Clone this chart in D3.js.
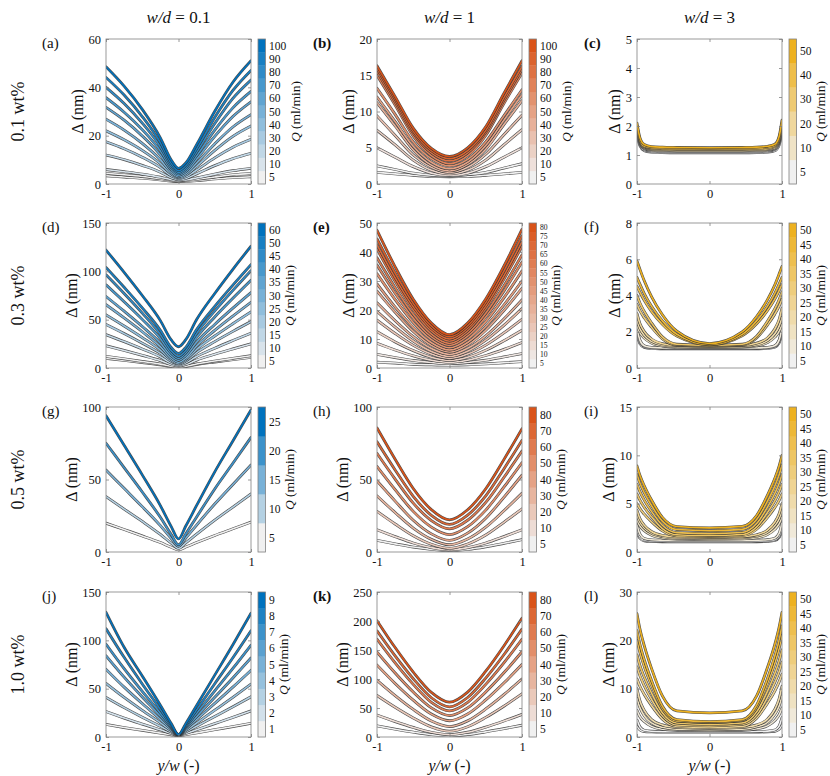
<!DOCTYPE html>
<html><head><meta charset="utf-8">
<script src="https://cdn.jsdelivr.net/npm/d3@7"></script>
<style>
body{margin:0;background:#fff}
text{font-family:'Liberation Serif','DejaVu Serif',serif;fill:#111}
</style>
</head><body><svg id="chart" width="830" height="776"></svg>
<script>
// ---------- DATA ----------
const colHeaders = ["0.1", "1", "3"];
const rowLabels = ["0.1 wt%", "0.3 wt%", "0.5 wt%", "1.0 wt%"];
const panelIds = ["a","b","c","d","e","f","g","h","i","j","k","l"];
const xTicks = [-1, 0, 1];

const X1 = [-1, -0.75, -0.5, -0.25, -0.1, 0, 0.1, 0.25, 0.5, 0.75, 1];
const X2 = [-1, -0.75, -0.5, -0.25, 0, 0.25, 0.5, 0.75, 1];
const X3 = [-1, -0.96, -0.9, -0.8, -0.65, -0.45, 0, 0.45, 0.65, 0.8, 0.9, 0.96, 1];

// (a)
const levelsA = [5,10,20,30,40,50,60,70,80,90,100];
const yTicksA = [0,20,40,60];
const qA = [5,5,10,20,30,40,50,60,70,80,90,100];
const deltaA = [
 [3.4,2.9,2.4,1.7,1.2,1.0,1.1,1.4,2.1,2.6,3.0],
 [4.4,3.8,3.1,2.2,1.5,1.2,1.4,1.9,2.9,3.8,4.4],
 [6,5.1,4.1,2.8,1.8,1.4,1.7,2.5,4.1,5.5,6.5],
 [12,10.1,7.7,4.9,2.6,1.8,2.3,4.2,7.6,10.5,12.7],
 [17.5,14.6,11.1,6.8,3.4,2.2,3.0,5.8,10.8,15.2,18.5],
 [22,18.3,13.9,8.4,4.2,2.6,3.7,7.3,13.9,19.7,24],
 [26.8,22.3,16.8,10.1,4.9,3.0,4.3,8.7,16.6,23.6,28.7],
 [31.7,26.4,19.9,12.0,5.8,3.6,5.1,10.3,19.7,27.9,34],
 [35.7,29.7,22.5,13.7,6.7,4.2,5.9,11.7,22.3,31.5,38.3],
 [40,33.3,25.2,15.4,7.6,4.8,6.7,13.2,25.0,35.4,43],
 [44.1,36.8,27.9,17.1,8.6,5.5,7.6,14.6,27.5,38.7,47],
 [48.5,40.5,30.9,19.1,9.9,6.5,8.7,16.3,30.1,42.1,51]
];
// (b)
const levelsB = [5,10,20,30,40,50,60,70,80,90,100];
const yTicksB = [0,5,10,15,20];
const qB = [5,5,10,20,30,40,50,60,70,80,90,100];
const deltaB = [
 [1.6,1.4,1.2,1.05,1.0,1.05,1.2,1.4,1.6],
 [2.5,2,1.5,1.2,1.1,1.3,1.6,2.2,2.8],
 [5,3.7,2.4,1.5,1.2,1.5,2.4,3.7,5],
 [7.4,5.4,3.3,1.9,1.4,1.9,3.3,5.4,7.5],
 [9.4,6.7,4,2.3,1.6,2.3,4.1,6.8,9.5],
 [11.2,8,4.7,2.6,1.8,2.7,4.8,8.2,11.5],
 [12,8.6,5.2,3,2.1,3,5.3,8.8,12.3],
 [13.2,9.6,5.8,3.5,2.5,3.4,5.8,9.4,13],
 [15,10.9,6.6,3.9,2.8,3.9,6.7,11.1,15.3],
 [15.5,11.3,7,4.3,3.2,4.3,7.1,11.5,15.8],
 [15.9,11.7,7.3,4.6,3.5,4.6,7.4,11.9,16.2],
 [16.3,12.05,7.7,4.9,3.8,5,7.9,12.5,17]
];
// (c)
const levelsC = [5,10,20,30,40,50];
const yTicksC = [0,1,2,3,4,5];
const qC = [5,5,10,20,30,40,50];
const deltaC = [
 [1.7,1.32,1.15,1.1,1.08,1.07,1.07,1.07,1.08,1.1,1.15,1.34,1.75],
 [1.8,1.38,1.18,1.13,1.11,1.1,1.1,1.1,1.11,1.13,1.19,1.4,1.85],
 [1.85,1.42,1.22,1.16,1.14,1.13,1.13,1.13,1.14,1.16,1.22,1.44,1.9],
 [1.9,1.46,1.25,1.19,1.17,1.16,1.16,1.16,1.17,1.19,1.25,1.48,1.95],
 [1.95,1.49,1.28,1.22,1.2,1.19,1.19,1.19,1.2,1.22,1.29,1.51,2.0],
 [2.0,1.53,1.31,1.25,1.23,1.22,1.22,1.22,1.23,1.26,1.33,1.57,2.1],
 [2.1,1.6,1.36,1.29,1.27,1.26,1.25,1.26,1.27,1.3,1.37,1.64,2.2]
];
// (d)
const levelsD = [5,10,15,20,25,30,35,40,45,50,60];
const yTicksD = [0,50,100,150];
const qD = [5,5,10,15,20,25,30,35,40,45,50,60];
const deltaD = [
 [10,7.9,5.7,3.3,1.4,0.8,1.5,3.6,6.2,8.7,11],
 [12,9.5,6.8,4.0,1.8,1,1.8,4.2,7.2,10,12.7],
 [23,18.2,13.1,7.7,3.5,2,3.6,8.2,14.2,19.7,25],
 [34.5,27.3,19.7,11.5,5.2,3,5.3,11.9,20.5,28.4,36],
 [45,35.6,25.7,15.1,6.9,4,7.1,15.9,27.3,37.9,48],
 [55,43.5,31.5,18.5,8.5,5,8.7,19.3,33.1,45.8,58],
 [65.5,51.8,37.5,22.1,10.2,6,10.3,22.7,38.9,53.7,68],
 [74,58.8,43,25.8,12.6,8,12.9,26.9,45.1,61.9,78],
 [86,68.5,50.3,30.5,15.3,10,15.6,31.8,52.8,72.1,90.7],
 [96.5,77.1,56.8,34.8,17.9,12,18.2,36,59,80.3,100.7],
 [104,83.5,62.2,39.0,21.2,15,21.4,39.8,63.8,85.8,107],
 [122,99,75,49,29,22,29.3,50.1,77.1,102.1,126]
];
// (e)
const levelsE = [5,10,15,20,25,30,35,40,45,50,55,60,65,70,75,80];
const yTicksE = [0,10,20,30,40,50];
const qE = [5,10,15,20,25,30,35,40,45,50,55,60,65,70,75,80];
const deltaE = [
 [2,1.7,1.3,1.1,1,1.1,1.4,1.8,2.2],
 [4.7,3.6,2.6,1.9,1.5,1.9,2.7,3.8,5],
 [8.5,6.2,4.2,2.7,2,2.7,4.3,6.4,8.8],
 [12.5,9.0,6,3.7,2.6,3.7,6.1,9.4,13],
 [16.5,11.9,7.8,4.8,3.3,4.8,7.9,12.1,16.8],
 [19.5,14.1,9.3,5.7,4,5.8,9.6,14.7,20.5],
 [22.5,16.3,10.8,6.7,4.7,6.8,11.1,16.9,23.5],
 [26.5,19.2,12.6,7.8,5.5,7.9,13,19.8,27.5],
 [29,21,14,8.7,6.2,8.8,14.3,21.7,30],
 [32.5,23.6,15.7,9.8,7,9.9,16,24.2,33.5],
 [35.5,25.8,17.2,10.8,7.8,11,17.6,26.5,36.5],
 [38,27.7,18.5,11.7,8.5,11.9,18.9,28.3,39],
 [41,29.9,20.1,12.8,9.3,12.9,20.4,30.6,42],
 [42.5,31.1,21.1,13.6,10,13.7,21.4,31.8,43.5],
 [44.5,32.7,22.3,14.5,10.8,14.6,22.6,33.4,45.5],
 [47.5,34.9,23.7,15.5,11.5,15.5,23.8,35.1,47.8]
];
// (f)
const levelsF = [5,10,15,20,25,30,35,40,45,50];
const yTicksF = [0,2,4,6,8];
const qF = [5,5,10,15,20,25,30,35,40,45,50];
const deltaF = [
 [1.8,1.35,1.14,1.08,1.06,1.05,1.05,1.05,1.06,1.08,1.15,1.39,1.9],
 [2.0,1.45,1.19,1.12,1.09,1.08,1.08,1.08,1.09,1.12,1.2,1.49,2.1],
 [2.2,1.54,1.23,1.14,1.11,1.1,1.1,1.1,1.11,1.14,1.23,1.54,2.2],
 [2.3,1.95,1.65,1.38,1.21,1.14,1.12,1.15,1.22,1.4,1.7,2.02,2.4],
 [2.6,2.17,1.8,1.47,1.27,1.18,1.15,1.18,1.28,1.51,1.89,2.31,2.8],
 [3.0,2.46,2.01,1.6,1.34,1.24,1.2,1.24,1.37,1.66,2.15,2.67,3.3],
 [3.5,3.16,2.77,2.25,1.61,1.27,1.22,1.27,1.66,2.38,2.97,3.41,3.8],
 [4.0,3.59,3.12,2.49,1.72,1.31,1.25,1.31,1.75,2.58,3.26,3.76,4.2],
 [4.5,4.18,3.73,3.12,2.41,1.76,1.28,1.78,2.44,3.17,3.8,4.27,4.6],
 [5.0,4.63,4.11,3.41,2.6,1.86,1.3,1.86,2.6,3.41,4.11,4.63,5.0],
 [5.9,5.45,4.81,3.94,2.94,2.03,1.35,1.99,2.84,3.77,4.58,5.18,5.6]
];
// (g)
const levelsG = [5,10,15,20,25];
const yTicksG = [0,50,100];
const qG = [5,10,15,20,25];
const deltaG = [
 [19.9,15.5,11.1,6.5,3.3,1.5,3.4,6.5,11.4,16,20.6],
 [38.2,29.6,21.1,12.1,6.1,2.5,6.3,12.3,22,31,40],
 [56.5,43.9,31.3,18.2,9.3,4,9.6,18.6,33.1,46.6,60],
 [75,58.2,41.4,23.9,12,5,12.4,24.2,43.5,61.2,79],
 [94,73.6,53.2,32,17.5,9,17.9,32.1,55.3,76.6,98]
];
// (h)
const levelsH = [5,10,20,30,40,50,60,70,80];
const yTicksH = [0,50,100];
const qH = [5,10,20,30,40,50,60,70,80];
const deltaH = [
 [8,5.6,3.4,1.8,1,1.8,3.6,6,8.5],
 [15.3,10.6,6.2,3,1.5,3,6.2,10.6,15.3],
 [28,19.3,11.2,5.3,2.5,5.5,11.7,20.5,29.7],
 [38.7,27.2,16.5,8.7,5,8.9,17.1,28.4,40.5],
 [49,35.1,21.9,12.5,8,13,23.3,37.7,53],
 [59,43,28,17.2,12,17.5,28.9,44.7,61.6],
 [68,50.3,33.7,21.7,16,21.9,34.2,51.4,69.6],
 [76,56.6,38.4,25.3,19,25.4,38.7,57.3,77],
 [85.6,64.0,43.8,29.2,22.2,29.1,43.6,63.7,85]
];
// (i)
const levelsI = [5,10,15,20,25,30,35,40,45,50];
const yTicksI = [0,5,10,15];
const qI = [5,5,10,15,20,25,30,35,40,45,50];
const deltaI = [
 [2.0,1.43,1.16,1.09,1.06,1.05,1.05,1.05,1.06,1.10,1.19,1.51,2.2],
 [2.3,1.58,1.24,1.15,1.11,1.1,1.1,1.1,1.11,1.16,1.27,1.66,2.5],
 [2.8,1.84,1.39,1.26,1.22,1.2,1.2,1.2,1.22,1.27,1.42,1.92,3.0],
 [3.3,2.7,2.2,1.74,1.46,1.34,1.3,1.35,1.48,1.81,2.34,2.91,3.6],
 [3.8,3.08,2.48,1.93,1.59,1.45,1.4,1.46,1.63,2.04,2.71,3.43,4.3],
 [4.3,3.46,2.76,2.12,1.72,1.56,1.5,1.57,1.78,2.27,3.08,3.95,5.0],
 [5.0,4.49,3.91,3.13,2.18,1.67,1.6,1.69,2.35,3.58,4.59,5.34,6.0],
 [6.0,5.36,4.62,3.64,2.43,1.79,1.7,1.81,2.6,4.09,5.3,6.21,7.0],
 [7.0,6.24,5.37,4.2,2.77,2.0,1.9,2.02,2.94,4.65,6.05,7.09,8.0],
 [8.0,7.13,6.14,4.81,3.19,2.32,2.2,2.34,3.36,5.26,6.82,7.98,9.0],
 [8.9,7.94,6.85,5.38,3.59,2.63,2.5,2.65,3.78,5.88,7.6,8.88,10]
];
// (j)
const levelsJ = [1,2,3,4,5,6,7,8,9];
const yTicksJ = [0,50,100,150];
const qJ = [1,2,3,4,5,6,7,8,9];
const deltaJ = [
 [13,9.8,6.9,4.0,2.3,1.2,2.4,4.3,7.6,10.8,14.2],
 [26.3,19.6,13.4,7.4,3.6,1.4,3.7,7.5,13.9,20.3,27],
 [41,30.4,20.5,11.1,5.1,1.6,5.2,11.2,21.2,31.2,41.6],
 [55.4,40.9,27.5,14.7,6.6,1.8,6.6,14.5,27.7,41,54.7],
 [70,51.6,34.6,18.3,8.1,2,8,18.1,34.8,51.6,69],
 [84,61.9,41.4,21.7,9.4,2,9.2,21.1,41.1,61,81.7],
 [96,70.7,47.2,24.7,10.6,2.2,10.6,24.5,47.7,70.9,95],
 [112,82.4,54.9,28.6,12.2,2.3,12,28.1,55.1,82,110],
 [129,92.8,63.2,32.9,13.9,2.5,13.8,32.6,64,95.4,128]
];
// (k)
const levelsK = [5,10,20,30,40,50,60,70,80];
const yTicksK = [0,50,100,150,200,250];
const qK = [5,10,20,30,40,50,60,70,80];
const deltaK = [
 [19.2,13.5,8.4,4.1,2,4.2,8.8,14.3,20.3],
 [37.8,26.6,16.5,8.1,4,8.2,17,27.5,39],
 [71.5,51.2,32.8,17.4,10,17.7,33.8,53.1,74.4],
 [97.7,71.4,47.5,27.6,18,27.8,48.3,73,100],
 [124,92.3,63.5,39.5,28,39.6,63.9,93,125],
 [146.5,110.4,77.5,50.1,37,50.2,77.7,110.7,147],
 [168.6,127.8,90.7,59.8,45,59.8,90.7,127.8,168.6],
 [183,139.8,100.5,67.7,52,68.1,101.6,141.8,186],
 [200.6,154.2,112,76.9,60,77.4,113.5,157,204.7]
];
// (l)
const levelsL = [5,10,15,20,25,30,35,40,45,50];
const yTicksL = [0,10,20,30];
const qL = [5,5,10,15,20,25,30,35,40,45,50];
const deltaL = [
 [2.2,1.48,1.14,1.05,1.01,1.0,1.0,1.0,1.02,1.06,1.18,1.6,2.5],
 [3.5,2.1,1.4,1.2,1.12,1.1,1.1,1.1,1.13,1.22,1.45,2.26,4],
 [5.5,4.2,3.2,2.2,1.6,1.4,1.3,1.4,1.7,2.3,3.4,4.6,6],
 [8,6.1,4.4,2.9,2.0,1.6,1.5,1.6,2.1,3.0,4.7,6.4,8.5],
 [10,7.5,5.5,3.6,2.5,2.0,1.8,2.0,2.5,3.7,5.7,7.9,10.5],
 [12,10.5,8.8,6.5,3.7,2.2,2.0,2.2,3.9,7.0,9.5,11.4,13],
 [14.5,12.7,10.6,7.8,4.4,2.5,2.3,2.6,4.5,8.2,11.3,13.5,15.5],
 [17,14.8,12.4,9.1,5.0,2.9,2.6,2.9,5.2,9.5,13.1,15.7,18],
 [20,17.5,14.6,10.7,5.9,3.3,3.0,3.4,6.1,11.1,15.2,18.3,21],
 [22,19.2,16,11.7,6.4,3.6,3.2,3.6,6.6,12.1,16.7,20,23],
 [25.5,22.4,18.9,14.2,8.5,5.4,5,5.4,8.5,14.4,19.1,22.7,25.8]
];

// ---------- LAYOUT / STYLE ----------
const colLeft = [106, 377, 637];
const rowTop = [39, 223, 407, 592];
const PW = 145, PH = 145;
const cbGap = 7, cbW = 7.5;
const colColors = ["#0072BD", "#D95319", "#EDB120"];
const lightColor = "#F0F0F0";
const boldLabels = ["b","c","e","k"];
const axisColor = "#808080";

const panels = [
 {row:0,col:0,xs:X1,q:qA,vals:deltaA,levels:levelsA,ticks:yTicksA},
 {row:0,col:1,xs:X2,q:qB,vals:deltaB,levels:levelsB,ticks:yTicksB},
 {row:0,col:2,xs:X3,q:qC,vals:deltaC,levels:levelsC,ticks:yTicksC},
 {row:1,col:0,xs:X1,q:qD,vals:deltaD,levels:levelsD,ticks:yTicksD},
 {row:1,col:1,xs:X2,q:qE,vals:deltaE,levels:levelsE,ticks:yTicksE},
 {row:1,col:2,xs:X3,q:qF,vals:deltaF,levels:levelsF,ticks:yTicksF},
 {row:2,col:0,xs:X1,q:qG,vals:deltaG,levels:levelsG,ticks:yTicksG},
 {row:2,col:1,xs:X2,q:qH,vals:deltaH,levels:levelsH,ticks:yTicksH},
 {row:2,col:2,xs:X3,q:qI,vals:deltaI,levels:levelsI,ticks:yTicksI},
 {row:3,col:0,xs:X1,q:qJ,vals:deltaJ,levels:levelsJ,ticks:yTicksJ},
 {row:3,col:1,xs:X2,q:qK,vals:deltaK,levels:levelsK,ticks:yTicksK},
 {row:3,col:2,xs:X3,q:qL,vals:deltaL,levels:levelsL,ticks:yTicksL}
];

const svg = d3.select("#chart");
const defs = svg.append("defs");

// column headers
colHeaders.forEach((h, c) => {
  const t = svg.append("text").attr("x", colLeft[c] + PW/2).attr("y", 23)
    .attr("text-anchor", "middle").style("font-size", "17px");
  t.append("tspan").style("font-style", "italic").text("w/d");
  t.append("tspan").text(" = " + h);
});
// row labels
rowLabels.forEach((r, i) => {
  svg.append("text").attr("transform", `translate(18,${rowTop[i] + PH/2}) rotate(-90)`)
    .attr("text-anchor", "middle").attr("dy", "0.35em").style("font-size", "18px").text(r);
});

panels.forEach((p, pi) => {
  const id = panelIds[pi];
  const left = colLeft[p.col], top = rowTop[p.row];
  const yMax = p.ticks[p.ticks.length - 1];
  const x = d3.scaleLinear().domain([-1, 1]).range([left, left + PW]);
  const y = d3.scaleLinear().domain([0, yMax]).range([top + PH, top]);
  const interp = d3.interpolateRgb(lightColor, colColors[p.col]);
  const n = p.levels.length;
  const colorOf = qv => interp(p.levels.indexOf(qv) / (n - 1));
  const g = svg.append("g");

  defs.append("clipPath").attr("id", "clip" + id).append("rect")
    .attr("x", left).attr("y", top).attr("width", PW).attr("height", PH);
  const cg = g.append("g").attr("clip-path", `url(#clip${id})`);
  const line = d3.line().x((d, i) => x(p.xs[i])).y(d => y(d)).curve(d3.curveMonotoneX);
  p.vals.forEach((v, k) => {
    cg.append("path").attr("d", line(v)).attr("fill", "none")
      .attr("stroke", "#2e2e2e").attr("stroke-opacity", 0.85).attr("stroke-width", 2.8)
      .attr("stroke-linejoin", "round").attr("stroke-linecap", "round");
    cg.append("path").attr("d", line(v)).attr("fill", "none")
      .attr("stroke", colorOf(p.q[k])).attr("stroke-width", 1.6)
      .attr("stroke-linejoin", "round").attr("stroke-linecap", "round");
  });

  // axes
  const fmt = d => String(d);
  const ax = [
    g.append("g").attr("transform", `translate(${left},0)`).call(d3.axisLeft(y).tickValues(p.ticks).tickSize(-3).tickPadding(5).tickFormat(fmt)),
    g.append("g").attr("transform", `translate(${left+PW},0)`).call(d3.axisRight(y).tickValues(p.ticks).tickSize(-3).tickFormat("")),
    g.append("g").attr("transform", `translate(0,${top+PH})`).call(d3.axisBottom(x).tickValues(xTicks).tickSize(-3).tickPadding(5).tickFormat(fmt)),
    g.append("g").attr("transform", `translate(0,${top})`).call(d3.axisTop(x).tickValues(xTicks).tickSize(-3).tickFormat(""))
  ];
  ax.forEach(a => {
    a.select(".domain").remove();
    a.selectAll("line").attr("stroke", axisColor).attr("stroke-width", 0.8);
    a.selectAll("text").style("font-size", "12.5px").style("font-family", "'Liberation Serif',serif").attr("fill", "#111");
  });
  g.append("rect").attr("x", left).attr("y", top).attr("width", PW).attr("height", PH)
    .attr("fill", "none").attr("stroke", axisColor).attr("stroke-width", 0.8);

  // y label
  const maxChars = d3.max(p.ticks, t => String(t).length);
  g.append("text").attr("transform", `translate(${left - 17 - 6*maxChars},${top + PH/2}) rotate(-90)`)
    .attr("text-anchor", "middle").attr("dy", "0.35em").style("font-size", "16px").text("Δ (nm)");
  // panel label
  g.append("text").attr("x", [42, 313, 584][p.col]).attr("y", top + 9)
    .style("font-size", "15px").style("font-weight", boldLabels.includes(id) ? "bold" : "normal")
    .text("(" + id + ")");
  // x label (bottom row)
  if (p.row === 3) {
    const t = g.append("text").attr("x", left + PW/2).attr("y", 771).attr("text-anchor", "middle").style("font-size", "16px");
    t.append("tspan").style("font-style", "italic").text("y/w");
    t.append("tspan").text(" (-)");
  }

  // colorbar
  const cbx = left + PW + cbGap;
  const band = d3.scaleBand().domain(d3.range(n)).range([top + PH, top]).paddingInner(0);
  g.selectAll(".cb").data(p.levels).join("rect")
    .attr("x", cbx).attr("y", (d, i) => band(i)).attr("width", cbW).attr("height", band.bandwidth() + 0.3)
    .attr("fill", (d, i) => interp(i / (n - 1)));
  g.append("rect").attr("x", cbx).attr("y", top).attr("width", cbW).attr("height", PH)
    .attr("fill", "none").attr("stroke", axisColor).attr("stroke-width", 0.8);
  g.selectAll(".cbt").data(p.levels).join("text")
    .attr("x", cbx + cbW + 3.5).attr("y", (d, i) => band(i) + band.bandwidth()/2).attr("dy", "0.35em")
    .style("font-size", n > 12 ? "7.6px" : "11.5px").text(d => d);
  const cbChars = d3.max(p.levels, l => String(l).length);
  const qx = cbx + cbW + (n > 12 ? 19 : 12 + 6*cbChars);
  const ql = g.append("text").attr("transform", `translate(${qx},${top + PH/2}) rotate(-90)`)
    .attr("text-anchor", "middle").attr("dy", "0.35em").style("font-size", "13.5px");
  ql.append("tspan").style("font-style", "italic").text("Q");
  ql.append("tspan").text(" (ml/min)");
});
</script>
</body></html>
